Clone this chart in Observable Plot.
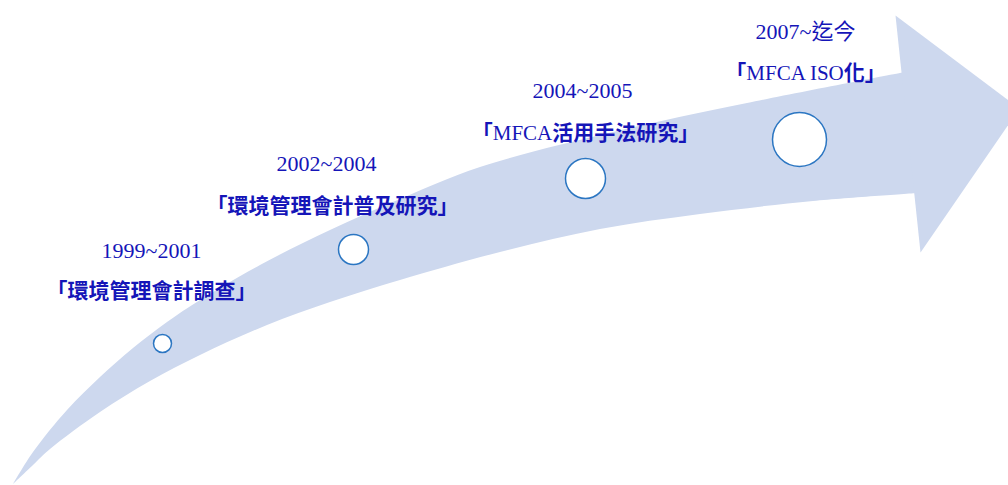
<!DOCTYPE html>
<html>
<head>
<meta charset="utf-8">
<script src="https://cdn.jsdelivr.net/npm/d3@7"></script>
<script src="https://cdn.jsdelivr.net/npm/@observablehq/plot@0.6"></script>
<style>
  html, body { margin: 0; padding: 0; background: #ffffff; }
  #chart svg { display: block; }
</style>
</head>
<body>
<div id="chart"></div>
<script>
// Timeline periods and descriptions
const periods = ["1999~2001", "2002~2004", "2004~2005", "2007~迄今"];
const topics  = ["「環境管理會計調查」", "「環境管理會計普及研究」", "「MFCA活用手法研究」", "「MFCA ISO化」"];

// Milestone markers (position along arrow and marker size)
const markerX = [162, 353, 585, 799];
const markerY = [343, 249, 178, 139];
const markerR = [9, 15, 20, 27];

// Label anchor positions
const periodX = [151, 326, 582, 805];
const periodY = [250, 163, 90, 31];
const topicX  = [151, 332, 585, 805];
const topicY  = [291, 206, 133, 73];

// Arrow body edges
const upperX = [13, 33, 67, 100, 133, 167, 200, 260, 330, 400, 480, 613, 747, 905];
const upperY = [484, 452, 410, 377, 348, 322, 300, 265, 230, 199, 167, 132, 103, 72];
const lowerX = [13, 33, 50, 100, 150, 200, 267, 330, 400, 500, 600, 700, 813, 918];
const lowerY = [484, 465, 449, 412, 381, 355, 325, 302, 280, 252, 229, 214, 201, 193];

// Arrow head
const headX = [895, 1019, 920];
const headY = [15, 108, 252];

const band = upperX.map((_, i) => ({x1: upperX[i], y1: upperY[i], x2: lowerX[i], y2: lowerY[i]}));
const head = headX.map((_, i) => ({x: headX[i], y: headY[i]}));
const markers = markerX.map((_, i) => ({x: markerX[i], y: markerY[i], r: markerR[i]}));
const periodLabels = periods.map((t, i) => ({x: periodX[i], y: periodY[i], t}));
const topicLabels = topics.map((t, i) => ({x: topicX[i], y: topicY[i], t}));

const arrowColor = "#cdd8ee";
const textColor = "#1515b8";

const chart = Plot.plot({
  width: 1008,
  height: 485,
  margin: 0,
  x: {domain: [0, 1008], axis: null},
  y: {domain: [0, 485], axis: null, range: [0, 485]},
  r: {type: "identity"},
  style: {background: "#ffffff"},
  marks: [
    Plot.area(band, {x1: "x1", y1: "y1", x2: "x2", y2: "y2", fill: arrowColor, curve: "catmull-rom"}),
    Plot.line(head, {x: "x", y: "y", fill: arrowColor, stroke: "none", curve: "linear-closed"}),
    Plot.dot(markers, {x: "x", y: "y", r: "r", fill: "#ffffff", stroke: "#2b76c2", strokeWidth: 1.5}),
    Plot.text(periodLabels, {x: "x", y: "y", text: "t", fill: textColor, fontSize: 22,
      fontFamily: "'Liberation Serif', 'Noto Sans CJK TC', serif"}),
    Plot.text(topicLabels, {x: "x", y: "y", text: "t", fill: textColor, fontSize: 21,
      fontFamily: "'Liberation Serif', 'Noto Sans CJK TC', serif"})
  ]
});

// Make the CJK runs of the topic labels bold while keeping Latin letters regular
d3.select(chart).selectAll("text").each(function() {
  const el = d3.select(this);
  const s = el.text();
  if (!topics.includes(s)) return;
  const runs = s.match(/[A-Za-z ]+|[^A-Za-z ]+/g);
  el.text(null);
  runs.forEach(r => {
    el.append("tspan")
      .attr("font-weight", /[A-Za-z]/.test(r) ? "normal" : "bold")
      .attr("xml:space", "preserve")
      .text(r);
  });
});

document.getElementById("chart").appendChild(chart);
</script>
</body>
</html>
